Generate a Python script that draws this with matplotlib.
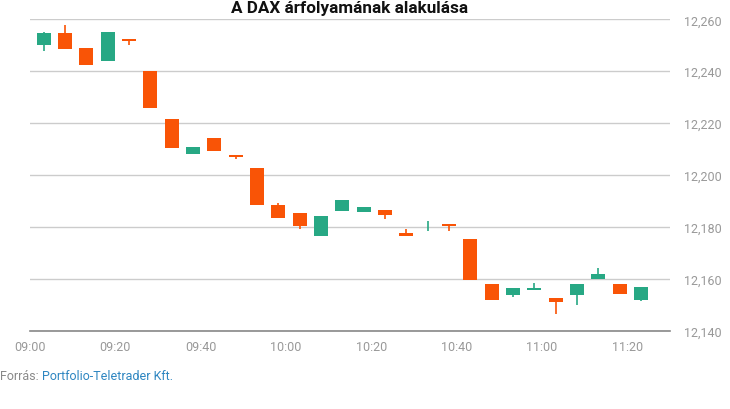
import matplotlib
matplotlib.use("Agg")
import matplotlib.pyplot as plt
from matplotlib.ticker import FuncFormatter

# ---- data ----
times = ["09:00", "09:05", "09:10", "09:15", "09:20", "09:25", "09:30", "09:35", "09:40", "09:45",
         "09:50", "09:55", "10:00", "10:05", "10:10", "10:15", "10:20", "10:25", "10:30", "10:35",
         "10:40", "10:45", "10:50", "10:55", "11:00", "11:05", "11:10", "11:15", "11:20"]
opens = [12250.3, 12254.8, 12249.0, 12244.1, 12252.0, 12240.2, 12221.7, 12208.0, 12214.4, 12207.6,
         12202.5, 12188.6, 12185.5, 12176.4, 12186.0, 12185.7, 12186.3, 12177.8, 12180.0, 12180.5,
         12175.2, 12157.8, 12153.7, 12155.7, 12152.5, 12153.7, 12160.0, 12157.8, 12151.8]
closes = [12254.8, 12248.7, 12242.6, 12255.2, 12251.8, 12225.7, 12210.3, 12210.9, 12209.1, 12206.8,
          12188.3, 12183.3, 12180.3, 12184.0, 12190.5, 12187.8, 12184.5, 12176.4, 12180.0, 12180.2,
          12159.5, 12151.8, 12156.3, 12155.9, 12151.0, 12157.8, 12161.7, 12154.1, 12156.7]
highs = [12255.2, 12257.8, 12249.0, 12255.2, 12252.0, 12240.2, 12221.7, 12210.9, 12214.4, 12207.6,
         12202.5, 12189.0, 12185.5, 12184.0, 12190.5, 12187.8, 12186.3, 12179.0, 12182.1, 12180.5,
         12175.2, 12157.8, 12156.3, 12158.2, 12152.5, 12157.8, 12164.0, 12157.8, 12156.7]
lows = [12248.0, 12248.7, 12242.6, 12244.1, 12250.3, 12225.7, 12210.3, 12208.0, 12209.1, 12206.0,
        12188.3, 12183.3, 12179.1, 12176.4, 12186.0, 12185.7, 12183.0, 12176.4, 12178.3, 12178.3,
        12159.5, 12151.8, 12153.0, 12155.7, 12146.4, 12149.9, 12160.0, 12154.1, 12151.4]
xtick_labels = ["09:00", "09:20", "09:40", "10:00", "10:20", "10:40", "11:00", "11:20"]
yticks = [12140, 12160, 12180, 12200, 12220, 12240, 12260]

UP = "#27a884"
DOWN = "#f95406"

plt.rcParams["font.family"] = ["Roboto", "DejaVu Sans"]

def to_min(s):
    h, m = s.split(":")
    return (int(h) - 9) * 60 + int(m)

fig = plt.figure(figsize=(7.3, 4.1), dpi=100)
ax = fig.add_axes([30 / 730, 1 - 331.5 / 410, 640 / 730, (331.5 - 20.4) / 410])

offset = 3.2
width = 3.3
for t, o, c, h, l in zip(times, opens, closes, highs, lows):
    x = to_min(t) + offset
    col = UP if c >= o else DOWN
    ax.vlines(x, l, h, color=col, linewidth=1.2, zorder=3)
    if c != o:
        bot = min(o, c)
        hgt = max(abs(c - o), 0.7)
        ax.bar(x, hgt, bottom=bot, width=width, color=col, linewidth=0, zorder=4)

ax.set_xlim(0, 150)
ax.set_ylim(12140, 12260)
ax.set_yticks(yticks)
ax.set_xticks([to_min(s) for s in xtick_labels])
ax.set_xticklabels(xtick_labels)
ax.yaxis.set_major_formatter(FuncFormatter(lambda v, p: f"{int(v):,}"))
ax.yaxis.tick_right()
ax.grid(axis="y", color="#cccccc", linewidth=1)
ax.set_axisbelow(True)
for s in ["top", "left", "right"]:
    ax.spines[s].set_visible(False)
ax.spines["bottom"].set_color("#888888")
ax.spines["bottom"].set_linewidth(1.2)
ax.tick_params(axis="both", length=0, colors="#999999", labelsize=9)
ax.tick_params(axis="x", pad=7)
ax.tick_params(axis="y", pad=10)

fig.text(350 / 730, 1 - 9 / 410, "A DAX árfolyamának alakulása", ha="center", va="center",
         fontsize=12.3, fontweight="bold", color="#111111")
t1 = fig.text(0 / 730, 1 - 377 / 410, "Forrás: ", ha="left", va="center", fontsize=9, color="#888888")
fig.canvas.draw()
bb = t1.get_window_extent()
fig.text(bb.x1 / fig.bbox.width, 1 - 377 / 410, "Portfolio-Teletrader Kft.",
         ha="left", va="center", fontsize=9, color="#2e86c1")

fig.savefig("out.png", dpi=100)
